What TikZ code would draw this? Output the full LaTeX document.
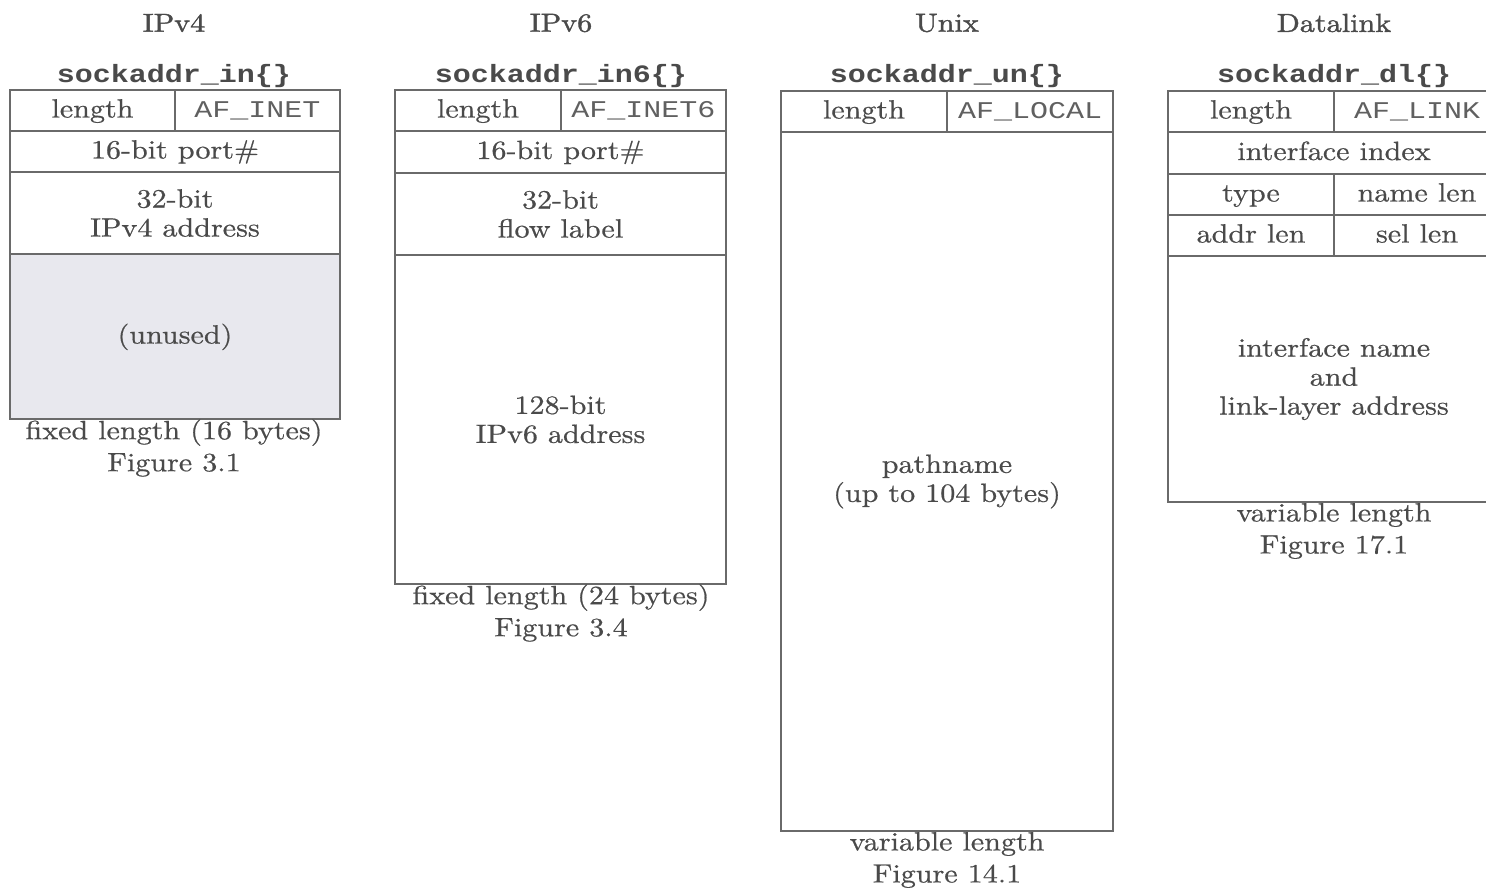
\documentclass[tikz,border=0pt]{standalone}
\usepackage{fontspec}
\setmainfont{lmroman10-regular.otf}[FakeStretch=1.14, FakeBold=0.6]
\newfontfamily\headfont{lmroman10-regular.otf}[FakeStretch=1.16, FakeBold=1.4]
\newfontfamily\monofont{Liberation Mono}[FakeStretch=1.25]
\newfontfamily\titlefont{Liberation Mono Bold}[FakeStretch=1.2]
\definecolor{linegray}{HTML}{6A6A6A}
\definecolor{textgray}{HTML}{4A4A4A}
\definecolor{monogray}{HTML}{606060}
\definecolor{unusedfill}{HTML}{E8E8EE}
\tikzset{
  cell/.style={draw=linegray, line width=1pt, inner sep=0pt, outer sep=0pt,
    text=textgray, align=center, font=\fontsize{13.2}{14.5}\selectfont},
  onecell/.style={cell, text height=9.5pt, text depth=2.5pt},
  monocell/.style={cell, text=monogray, text height=9.3pt, text depth=2.5pt,
    font=\monofont\fontsize{12}{14.5}\selectfont},
  lbl/.style={text=textgray, align=center, inner sep=0pt,
    font=\fontsize{13.2}{16}\selectfont},
  head/.style={text=textgray, inner sep=0pt, font=\headfont\fontsize{13}{14}\selectfont},
  sname/.style={text=textgray, inner sep=0pt, font=\titlefont\fontsize{12.5}{14}\selectfont},
}
% name, x1, y1, x2, y2, style, text
\newcommand\fieldbox[7]{%
  \node[#6, minimum width={(#4-#2)*0.5pt}, minimum height={(#5-#3)*0.5pt}]
    (#1) at ({(#2+#4)/2},{(#3+#5)/2}) {#7};}
\begin{document}
\begin{tikzpicture}[x=0.5pt,y=-0.5pt]
\useasboundingbox (0,0) rectangle (1486,889);
\clip (0,0) rectangle (1486,889);
\fill[white] (0,0) rectangle (1486,889);

% ---------- IPv4 ----------
\node[head] (h4) at (174,23) {IPv4};
\node[sname] (s4) at (174,76) {sockaddr\_in\{\}};
\fieldbox{v4len}{10}{90}{175}{131}{onecell}{length}
\fieldbox{v4fam}{175}{90}{340}{131}{monocell}{AF\_INET}
\fieldbox{v4port}{10}{131}{340}{172}{onecell}{16-bit port\#}
\fieldbox{v4addr}{10}{172}{340}{254}{cell}{32-bit\\IPv4 address}
\fieldbox{v4unused}{10}{254}{340}{419}{onecell, fill=unusedfill}{(unused)}
\node[lbl] (c4) at (174,448) {fixed length (16 bytes)\\Figure 3.1};

% ---------- IPv6 ----------
\node[head] (h6) at (561,23) {IPv6};
\node[sname] (s6) at (561,76) {sockaddr\_in6\{\}};
\fieldbox{v6len}{395}{90}{561}{131}{onecell}{length}
\fieldbox{v6fam}{561}{90}{726}{131}{monocell}{AF\_INET6}
\fieldbox{v6port}{395}{131}{726}{173}{onecell}{16-bit port\#}
\fieldbox{v6flow}{395}{173}{726}{255}{cell}{32-bit\\flow label}
\fieldbox{v6addr}{395}{255}{726}{584}{cell}{128-bit\\IPv6 address}
\node[lbl] (c6) at (561,613) {fixed length (24 bytes)\\Figure 3.4};

% ---------- Unix ----------
\node[head] (hu) at (947,23) {Unix};
\node[sname] (su) at (947,76) {sockaddr\_un\{\}};
\fieldbox{unlen}{781}{91}{947}{132}{onecell}{length}
\fieldbox{unfam}{947}{91}{1113}{132}{monocell}{AF\_LOCAL}
\fieldbox{unpath}{781}{132}{1113}{831}{cell}{pathname\\(up to 104 bytes)}
\node[lbl] (cu) at (947,860) {variable length\\Figure 14.1};

% ---------- Datalink ----------
\node[head] (hd) at (1334,23) {Datalink};
\node[sname] (sd) at (1334,76) {sockaddr\_dl\{\}};
\fieldbox{dllen}{1168}{91}{1334}{132}{onecell}{length}
\fieldbox{dlfam}{1334}{91}{1500}{132}{monocell}{AF\_LINK}
\fieldbox{dlidx}{1168}{132}{1500}{174}{onecell}{interface index}
\fieldbox{dltype}{1168}{174}{1334}{215}{onecell}{type}
\fieldbox{dlnlen}{1334}{174}{1500}{215}{onecell}{name len}
\fieldbox{dlalen}{1168}{215}{1334}{256}{onecell}{addr len}
\fieldbox{dlslen}{1334}{215}{1500}{256}{onecell}{sel len}
\fieldbox{dlname}{1168}{256}{1500}{502}{cell}{interface name\\and\\link-layer address}
\node[lbl] (cd) at (1334,531) {variable length\\Figure 17.1};
\end{tikzpicture}
\end{document}
